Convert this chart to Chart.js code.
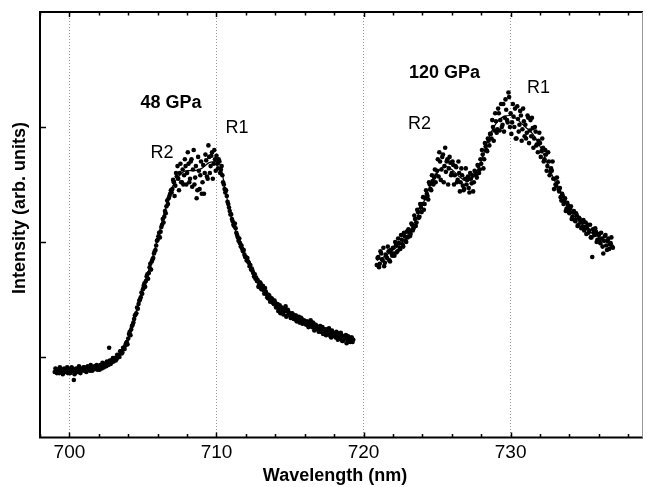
<!DOCTYPE html>
<html lang="en">
<head>
  <meta charset="UTF-8">
  <title>Ruby fluorescence spectra</title>
  <script src="https://cdn.jsdelivr.net/npm/chart.js"></script>
  <style>
    body {
      margin: 0;
      padding: 0;
      background-color: #ffffff;
    }
    .container {
      width: 647px;
      height: 487px;
    }
  </style>
</head>
<body>
  <div class="container">
    <canvas id="spectrumChart" width="647" height="487"></canvas>
  </div>
  <script>
    // 48 GPa spectrum: wavelength (nm) and measured intensity
    const wl48 = [
      699.0, 699.1, 699.2, 699.3, 699.4, 699.5, 699.6, 699.7, 699.8, 699.9,
      700.0, 700.1, 700.2, 700.3, 700.4, 700.5, 700.6, 700.7, 700.8, 700.9,
      701.0, 701.1, 701.2, 701.3, 701.4, 701.5, 701.6, 701.7, 701.8, 701.9,
      702.0, 702.1, 702.2, 702.3, 702.4, 702.5, 702.6, 702.7, 702.8, 702.9,
      703.0, 703.1, 703.2, 703.3, 703.4, 703.5, 703.6, 703.7, 703.8, 703.9,
      704.0, 704.1, 704.2, 704.3, 704.4, 704.5, 704.6, 704.7, 704.8, 704.9,
      705.0, 705.1, 705.2, 705.3, 705.4, 705.5, 705.6, 705.7, 705.8, 705.9,
      706.0, 706.1, 706.2, 706.3, 706.4, 706.5, 706.6, 706.7, 706.8, 706.9,
      707.0, 707.1, 707.2, 707.3, 707.4, 707.5, 707.6, 707.7, 707.8, 707.9,
      708.0, 708.1, 708.2, 708.3, 708.4, 708.5, 708.6, 708.7, 708.8, 708.9,
      709.0, 709.1, 709.2, 709.3, 709.4, 709.5, 709.6, 709.7, 709.8, 709.9,
      710.0, 710.1, 710.2, 710.3, 710.4, 710.5, 710.6, 710.7, 710.8, 710.9,
      711.0, 711.1, 711.2, 711.3, 711.4, 711.5, 711.6, 711.7, 711.8, 711.9,
      712.0, 712.1, 712.2, 712.3, 712.4, 712.5, 712.6, 712.7, 712.8, 712.9,
      713.0, 713.1, 713.2, 713.3, 713.4, 713.5, 713.6, 713.7, 713.8, 713.9,
      714.0, 714.1, 714.2, 714.3, 714.4, 714.5, 714.6, 714.7, 714.8, 714.9,
      715.0, 715.1, 715.2, 715.3, 715.4, 715.5, 715.6, 715.7, 715.8, 715.9,
      716.0, 716.1, 716.2, 716.3, 716.4, 716.5, 716.6, 716.7, 716.8, 716.9,
      717.0, 717.1, 717.2, 717.3, 717.4, 717.5, 717.6, 717.7, 717.8, 717.9,
      718.0, 718.1, 718.2, 718.3, 718.4, 718.5, 718.6, 718.7, 718.8, 718.9,
      719.0, 719.1, 719.2, 719.3
    ];
    const int48 = [
      0.87, 0.89, 0.88, 0.86, 0.90, 0.88, 0.87, 0.89, 0.88, 0.86,
      0.89, 0.87, 0.90, 0.80, 0.88, 0.89, 0.87, 0.90, 0.88, 0.89,
      0.88, 0.90, 0.89, 0.91, 0.88, 0.90, 0.89, 0.92, 0.90, 0.89,
      0.91, 0.93, 0.90, 0.92, 0.94, 0.92, 0.95, 1.08, 0.94, 0.97,
      0.96, 0.99, 0.98, 1.01, 1.00, 1.05, 1.04, 1.08, 1.10, 1.13,
      1.16, 1.22, 1.24, 1.28, 1.33, 1.37, 1.43, 1.46, 1.50, 1.56,
      1.59, 1.64, 1.66, 1.72, 1.73, 1.81, 1.83, 1.86, 1.92, 1.97,
      2.02, 2.08, 2.09, 2.15, 2.17, 2.27, 2.31, 2.33, 2.40, 2.45,
      2.46, 2.52, 2.49, 2.57, 2.55, 2.60, 2.52, 2.63, 2.58, 2.66,
      2.60, 2.68, 2.55, 2.72, 2.63, 2.50, 2.66, 2.45, 2.62, 2.58,
      2.42, 2.67, 2.60, 2.71, 2.55, 2.74, 2.66, 2.78, 2.68, 2.72,
      2.75, 2.64, 2.70, 2.63, 2.58, 2.50, 2.43, 2.40, 2.33, 2.27,
      2.24, 2.18, 2.14, 2.12, 2.06, 2.01, 1.99, 1.97, 1.92, 1.89,
      1.87, 1.86, 1.82, 1.80, 1.77, 1.73, 1.72, 1.69, 1.67, 1.63,
      1.64, 1.60, 1.58, 1.60, 1.55, 1.51, 1.53, 1.49, 1.50, 1.46,
      1.47, 1.44, 1.40, 1.45, 1.42, 1.39, 1.41, 1.44, 1.36, 1.39,
      1.38, 1.35, 1.37, 1.34, 1.36, 1.32, 1.35, 1.30, 1.33, 1.31,
      1.31, 1.28, 1.30, 1.27, 1.32, 1.26, 1.29, 1.25, 1.27, 1.24,
      1.25, 1.22, 1.26, 1.21, 1.23, 1.24, 1.20, 1.22, 1.17, 1.21,
      1.20, 1.17, 1.21, 1.18, 1.16, 1.19, 1.14, 1.17, 1.19, 1.15,
      1.16, 1.13, 1.17, 1.15
    ];
    // second pass of the 48 GPa scan, half a step further on
    const wl48b = [
      699.05, 699.15, 699.25, 699.35, 699.45, 699.55, 699.65, 699.75, 699.85, 699.95,
      700.05, 700.15, 700.25, 700.35, 700.45, 700.55, 700.65, 700.75, 700.85, 700.95,
      701.05, 701.15, 701.25, 701.35, 701.45, 701.55, 701.65, 701.75, 701.85, 701.95,
      702.05, 702.15, 702.25, 702.35, 702.45, 702.55, 702.65, 702.75, 702.85, 702.95,
      703.05, 703.15, 703.25, 703.35, 703.45, 703.55, 703.65, 703.75, 703.85, 703.95,
      704.05, 704.15, 704.25, 704.35, 704.45, 704.55, 704.65, 704.75, 704.85, 704.95,
      705.05, 705.15, 705.25, 705.35, 705.45, 705.55, 705.65, 705.75, 705.85, 705.95,
      706.05, 706.15, 706.25, 706.35, 706.45, 706.55, 706.65, 706.75, 706.85, 706.95,
      707.05, 707.15, 707.25, 707.35, 707.45, 707.55, 707.65, 707.75, 707.85, 707.95,
      708.05, 708.15, 708.25, 708.35, 708.45, 708.55, 708.65, 708.75, 708.85, 708.95,
      709.05, 709.15, 709.25, 709.35, 709.45, 709.55, 709.65, 709.75, 709.85, 709.95,
      710.05, 710.15, 710.25, 710.35, 710.45, 710.55, 710.65, 710.75, 710.85, 710.95,
      711.05, 711.15, 711.25, 711.35, 711.45, 711.55, 711.65, 711.75, 711.85, 711.95,
      712.05, 712.15, 712.25, 712.35, 712.45, 712.55, 712.65, 712.75, 712.85, 712.95,
      713.05, 713.15, 713.25, 713.35, 713.45, 713.55, 713.65, 713.75, 713.85, 713.95,
      714.05, 714.15, 714.25, 714.35, 714.45, 714.55, 714.65, 714.75, 714.85, 714.95,
      715.05, 715.15, 715.25, 715.35, 715.45, 715.55, 715.65, 715.75, 715.85, 715.95,
      716.05, 716.15, 716.25, 716.35, 716.45, 716.55, 716.65, 716.75, 716.85, 716.95,
      717.05, 717.15, 717.25, 717.35, 717.45, 717.55, 717.65, 717.75, 717.85, 717.95,
      718.05, 718.15, 718.25, 718.35, 718.45, 718.55, 718.65, 718.75, 718.85, 718.95,
      719.05, 719.15, 719.25
    ];
    const int48b = [
      0.90, 0.86, 0.89, 0.91, 0.87, 0.85, 0.90, 0.87, 0.91, 0.88,
      0.86, 0.91, 0.88, 0.85, 0.90, 0.87, 0.92, 0.86, 0.89, 0.91,
      0.91, 0.87, 0.92, 0.89, 0.93, 0.88, 0.91, 0.90, 0.93, 0.91,
      0.89, 0.92, 0.95, 0.91, 0.93, 0.96, 0.93, 0.97, 0.95, 0.99,
      0.99, 0.97, 1.02, 1.00, 1.05, 1.03, 1.08, 1.07, 1.12, 1.11,
      1.20, 1.19, 1.27, 1.30, 1.36, 1.38, 1.42, 1.49, 1.52, 1.55,
      1.62, 1.61, 1.70, 1.68, 1.78, 1.76, 1.85, 1.90, 1.93, 2.01,
      2.05, 2.04, 2.13, 2.20, 2.22, 2.25, 2.36, 2.38, 2.42, 2.43,
      2.54, 2.40, 2.60, 2.66, 2.45, 2.68, 2.52, 2.50, 2.72, 2.50,
      2.78, 2.52, 2.70, 2.48, 2.80, 2.56, 2.38, 2.74, 2.46, 2.70,
      2.52, 2.42, 2.76, 2.57, 2.84, 2.60, 2.75, 2.55, 2.80, 2.62,
      2.68, 2.72, 2.60, 2.66, 2.52, 2.46, 2.45, 2.35, 2.30, 2.24,
      2.20, 2.15, 2.16, 2.08, 2.04, 2.03, 1.96, 1.94, 1.93, 1.87,
      1.84, 1.83, 1.79, 1.76, 1.75, 1.70, 1.68, 1.66, 1.61, 1.65,
      1.59, 1.62, 1.55, 1.57, 1.52, 1.54, 1.48, 1.51, 1.47, 1.49,
      1.43, 1.46, 1.42, 1.38, 1.43, 1.37, 1.40, 1.35, 1.41, 1.37,
      1.34, 1.38, 1.33, 1.36, 1.31, 1.34, 1.30, 1.34, 1.29, 1.32,
      1.29, 1.31, 1.26, 1.29, 1.27, 1.30, 1.23, 1.28, 1.26, 1.22,
      1.27, 1.23, 1.20, 1.24, 1.19, 1.22, 1.25, 1.18, 1.23, 1.19,
      1.18, 1.22, 1.15, 1.19, 1.21, 1.14, 1.18, 1.16, 1.12, 1.18,
      1.14, 1.17, 1.13
    ];

    // 120 GPa spectrum
    const wl120 = [
      720.9,
      721.0, 721.1, 721.2, 721.3, 721.4, 721.5, 721.6, 721.7, 721.8, 721.9,
      722.0, 722.1, 722.2, 722.3, 722.4, 722.5, 722.6, 722.7, 722.8, 722.9,
      723.0, 723.1, 723.2, 723.3, 723.4, 723.5, 723.6, 723.7, 723.8, 723.9,
      724.0, 724.1, 724.2, 724.3, 724.4, 724.5, 724.6, 724.7, 724.8, 724.9,
      725.0, 725.1, 725.2, 725.3, 725.4, 725.5, 725.6, 725.7, 725.8, 725.9,
      726.0, 726.1, 726.2, 726.3, 726.4, 726.5, 726.6, 726.7, 726.8, 726.9,
      727.0, 727.1, 727.2, 727.3, 727.4, 727.5, 727.6, 727.7, 727.8, 727.9,
      728.0, 728.1, 728.2, 728.3, 728.4, 728.5, 728.6, 728.7, 728.8, 728.9,
      729.0, 729.1, 729.2, 729.3, 729.4, 729.5, 729.6, 729.7, 729.8, 729.9,
      730.0, 730.1, 730.2, 730.3, 730.4, 730.5, 730.6, 730.7, 730.8, 730.9,
      731.0, 731.1, 731.2, 731.3, 731.4, 731.5, 731.6, 731.7, 731.8, 731.9,
      732.0, 732.1, 732.2, 732.3, 732.4, 732.5, 732.6, 732.7, 732.8, 732.9,
      733.0, 733.1, 733.2, 733.3, 733.4, 733.5, 733.6, 733.7, 733.8, 733.9,
      734.0, 734.1, 734.2, 734.3, 734.4, 734.5, 734.6, 734.7, 734.8, 734.9,
      735.0, 735.1, 735.2, 735.3, 735.4, 735.5, 735.6, 735.7, 735.8, 735.9,
      736.0, 736.1, 736.2, 736.3, 736.4, 736.5, 736.6, 736.7, 736.8, 736.9
    ];
    const int120 = [
      1.80,
      1.87, 1.81, 1.90, 1.84, 1.79, 1.89, 1.86, 1.92, 1.83, 1.90,
      1.95, 1.88, 1.97, 1.92, 1.99, 1.94, 2.02, 1.96, 2.05, 2.00,
      2.04, 2.10, 2.07, 2.15, 2.12, 2.20, 2.17, 2.26, 2.22, 2.30,
      2.33, 2.28, 2.38, 2.42, 2.37, 2.50, 2.45, 2.53, 2.56, 2.52,
      2.62, 2.57, 2.70, 2.63, 2.76, 2.66, 2.61, 2.72, 2.64, 2.69,
      2.60, 2.67, 2.58, 2.65, 2.54, 2.60, 2.52, 2.58, 2.45, 2.55,
      2.50, 2.57, 2.43, 2.55, 2.58, 2.52, 2.61, 2.56, 2.66, 2.63,
      2.68, 2.76, 2.72, 2.83, 2.79, 2.88, 2.94, 2.90, 3.00, 2.97,
      3.05, 2.98, 3.12, 3.06, 3.00, 3.20, 3.08, 3.15, 3.04, 3.26,
      3.12, 3.04, 3.09, 3.16, 2.90, 3.07, 3.02, 3.10, 2.98, 3.05,
      3.02, 2.95, 3.08, 2.97, 2.92, 2.99, 2.90, 2.96, 2.85, 2.88,
      2.86, 2.79, 2.82, 2.72, 2.76, 2.66, 2.70, 2.61, 2.62, 2.55,
      2.55, 2.49, 2.52, 2.44, 2.39, 2.42, 2.33, 2.38, 2.29, 2.32,
      2.25, 2.31, 2.22, 2.27, 2.18, 2.23, 2.15, 2.20, 2.12, 2.17,
      2.10, 2.17, 2.12, 2.08, 2.15, 2.04, 2.11, 2.06, 2.09, 2.02,
      2.06, 1.99, 2.03, 1.90, 2.05, 1.97, 2.01, 1.94, 1.99, 1.96
    ];
    const wl120b = [
      720.95,
      721.05, 721.15, 721.25, 721.35, 721.45, 721.55, 721.65, 721.75, 721.85, 721.95,
      722.05, 722.15, 722.25, 722.35, 722.45, 722.55, 722.65, 722.75, 722.85, 722.95,
      723.05, 723.15, 723.25, 723.35, 723.45, 723.55, 723.65, 723.75, 723.85, 723.95,
      724.05, 724.15, 724.25, 724.35, 724.45, 724.55, 724.65, 724.75, 724.85, 724.95,
      725.05, 725.15, 725.25, 725.35, 725.45, 725.55, 725.65, 725.75, 725.85, 725.95,
      726.05, 726.15, 726.25, 726.35, 726.45, 726.55, 726.65, 726.75, 726.85, 726.95,
      727.05, 727.15, 727.25, 727.35, 727.45, 727.55, 727.65, 727.75, 727.85, 727.95,
      728.05, 728.15, 728.25, 728.35, 728.45, 728.55, 728.65, 728.75, 728.85, 728.95,
      729.05, 729.15, 729.25, 729.35, 729.45, 729.55, 729.65, 729.75, 729.85, 729.95,
      730.05, 730.15, 730.25, 730.35, 730.45, 730.55, 730.65, 730.75, 730.85, 730.95,
      731.05, 731.15, 731.25, 731.35, 731.45, 731.55, 731.65, 731.75, 731.85, 731.95,
      732.05, 732.15, 732.25, 732.35, 732.45, 732.55, 732.65, 732.75, 732.85, 732.95,
      733.05, 733.15, 733.25, 733.35, 733.45, 733.55, 733.65, 733.75, 733.85, 733.95,
      734.05, 734.15, 734.25, 734.35, 734.45, 734.55, 734.65, 734.75, 734.85, 734.95,
      735.05, 735.15, 735.25, 735.35, 735.45, 735.55, 735.65, 735.75, 735.85, 735.95,
      736.05, 736.15, 736.25, 736.35, 736.45, 736.55, 736.65, 736.75, 736.85, 736.95
    ];
    const int120b = [
      1.86,
      1.78, 1.92, 1.85, 1.95, 1.82, 1.87, 1.96, 1.84, 1.93, 1.88,
      1.90, 2.00, 1.91, 2.03, 1.95, 2.06, 1.98, 2.08, 2.01, 2.09,
      2.11, 2.05, 2.16, 2.10, 2.23, 2.14, 2.28, 2.21, 2.33, 2.26,
      2.39, 2.33, 2.45, 2.40, 2.52, 2.46, 2.58, 2.50, 2.63, 2.58,
      2.72, 2.78, 2.54, 2.74, 2.52, 2.82, 2.70, 2.50, 2.74, 2.58,
      2.70, 2.50, 2.66, 2.52, 2.70, 2.44, 2.64, 2.49, 2.46, 2.64,
      2.54, 2.47, 2.60, 2.51, 2.44, 2.62, 2.58, 2.67, 2.60, 2.72,
      2.80, 2.64, 2.86, 2.80, 2.90, 2.84, 2.94, 3.06, 2.88, 3.12,
      2.95, 3.16, 2.97, 3.20, 3.02, 2.96, 3.24, 3.06, 3.30, 3.00,
      2.94, 3.20, 3.00, 2.90, 3.18, 2.96, 3.14, 2.88, 3.16, 2.92,
      2.90, 3.10, 2.86, 3.06, 3.08, 2.82, 3.00, 2.84, 2.78, 2.95,
      2.74, 2.90, 2.70, 2.80, 2.62, 2.78, 2.58, 2.64, 2.70, 2.46,
      2.50, 2.56, 2.46, 2.47, 2.36, 2.40, 2.36, 2.27, 2.34, 2.26,
      2.29, 2.20, 2.26, 2.19, 2.25, 2.14, 2.21, 2.17, 2.13, 2.19,
      2.13, 2.07, 2.15, 2.10, 2.04, 1.87, 2.08, 2.12, 2.00, 2.07,
      2.02, 2.08, 1.96, 2.01, 2.06, 1.93, 2.03, 1.98, 2.04, 1.95
    ];

    // fitted curves
    const fit48X = [699.0, 700.0, 701.0, 702.0, 702.5, 703.0, 703.5, 704.0, 704.5, 705.0, 705.5, 706.0, 706.5, 707.0, 707.5, 708.0, 708.5, 709.0, 709.5, 710.0, 710.3, 710.6, 711.0, 711.5, 712.0, 712.5, 713.0, 713.5, 714.0, 714.5, 715.0, 716.0, 717.0, 718.0, 719.0, 719.3];
    const fit48Y = [0.88, 0.885, 0.89, 0.91, 0.93, 0.97, 1.04, 1.17, 1.38, 1.60, 1.80, 2.03, 2.28, 2.48, 2.58, 2.62, 2.62, 2.64, 2.69, 2.70, 2.65, 2.45, 2.22, 2.03, 1.88, 1.74, 1.62, 1.53, 1.46, 1.41, 1.37, 1.30, 1.24, 1.19, 1.16, 1.15];
    const fit120X = [720.9, 721.5, 722.0, 722.5, 723.0, 723.5, 724.0, 724.5, 725.0, 725.5, 726.0, 726.5, 727.0, 727.5, 728.0, 728.5, 729.0, 729.5, 730.0, 730.5, 731.0, 731.5, 732.0, 732.5, 733.0, 733.5, 734.0, 734.5, 735.0, 735.5, 736.0, 736.5, 736.9];
    const fit120Y = [1.84, 1.88, 1.93, 1.98, 2.06, 2.18, 2.32, 2.48, 2.60, 2.66, 2.63, 2.57, 2.53, 2.57, 2.70, 2.90, 3.03, 3.09, 3.10, 3.06, 3.00, 2.94, 2.83, 2.68, 2.53, 2.40, 2.28, 2.20, 2.14, 2.08, 2.04, 2.00, 1.97];

    // axis ticks
    const xTickValues = [698, 700, 702, 704, 706, 708, 710, 712, 714, 716, 718, 720, 722, 724, 726, 728, 730, 732, 734, 736, 738];
    const yTickValues = [1, 2, 3];

    // text labels: [text, wavelength, intensity, bold]
    const peakLabels = [
      ['48 GPa', 706.9, 3.21, true],
      ['R2', 706.3, 2.77, false],
      ['R1', 711.4, 2.99, false],
      ['120 GPa', 725.5, 3.47, true],
      ['R2', 723.8, 3.03, false],
      ['R1', 731.9, 3.34, false]
    ];

    const FONT = '"Liberation Sans", Arial, Helvetica, sans-serif';

    function toPoints(xs, ys) {
      return xs.map((x, i) => ({ x: x, y: ys[i] }));
    }

    // frame, inward ticks, axis titles and peak labels
    const decorations = {
      id: 'decorations',
      afterDraw(chart) {
        const { ctx, chartArea: a, scales } = chart;
        const xs = scales.x, ys = scales.y;
        ctx.save();
        ctx.strokeStyle = '#000';

        // inward ticks on bottom and top
        ctx.lineWidth = 1.5;
        xTickValues.forEach(v => {
          const px = Math.round(xs.getPixelForValue(v)) + 0.5;
          const len = v % 10 === 0 ? 5 : 3.5;
          ctx.beginPath();
          ctx.moveTo(px, a.bottom);
          ctx.lineTo(px, a.bottom - len);
          ctx.moveTo(px, a.top);
          ctx.lineTo(px, a.top + len);
          ctx.stroke();
        });
        yTickValues.forEach(v => {
          const py = Math.round(ys.getPixelForValue(v)) + 0.5;
          ctx.beginPath();
          ctx.moveTo(a.left, py);
          ctx.lineTo(a.left + 6, py);
          ctx.stroke();
        });

        // frame
        ctx.lineWidth = 2;
        ctx.beginPath();
        ctx.moveTo(a.right, a.top);
        ctx.lineTo(a.left, a.top);
        ctx.lineTo(a.left, a.bottom);
        ctx.lineTo(a.right, a.bottom);
        ctx.stroke();
        ctx.strokeStyle = '#999';
        ctx.lineWidth = 1;
        ctx.beginPath();
        ctx.moveTo(a.right - 0.5, a.top);
        ctx.lineTo(a.right - 0.5, a.bottom);
        ctx.stroke();

        // peak labels
        ctx.fillStyle = '#000';
        ctx.textAlign = 'center';
        ctx.textBaseline = 'middle';
        peakLabels.forEach(([text, x, y, bold]) => {
          ctx.font = (bold ? 'bold ' : '') + '18px ' + FONT;
          ctx.fillText(text, xs.getPixelForValue(x), ys.getPixelForValue(y));
        });

        // axis titles
        ctx.font = 'bold 18px ' + FONT;
        ctx.fillText('Wavelength (nm)', 335, 476);
        ctx.translate(20, 208);
        ctx.rotate(-Math.PI / 2);
        ctx.fillText('Intensity (arb. units)', 0, 0);
        ctx.restore();
      }
    };

    const ctx = document.getElementById('spectrumChart').getContext('2d');
    const chart = new Chart(ctx, {
      type: 'scatter',
      data: {
        datasets: [
          {
            label: 'fit 48 GPa',
            type: 'line',
            data: toPoints(fit48X, fit48Y),
            borderColor: '#000',
            borderWidth: 1.2,
            pointRadius: 0,
            cubicInterpolationMode: 'monotone',
            fill: false
          },
          {
            label: 'fit 120 GPa',
            type: 'line',
            data: toPoints(fit120X, fit120Y),
            borderColor: '#000',
            borderWidth: 1.2,
            pointRadius: 0,
            cubicInterpolationMode: 'monotone',
            fill: false
          },
          {
            label: '48 GPa',
            data: toPoints(wl48, int48).concat(toPoints(wl48b, int48b)),
            backgroundColor: '#000',
            borderWidth: 0,
            pointRadius: 2.3
          },
          {
            label: '120 GPa',
            data: toPoints(wl120, int120).concat(toPoints(wl120b, int120b)),
            backgroundColor: '#000',
            borderWidth: 0,
            pointRadius: 2.3
          }
        ]
      },
      options: {
        responsive: false,
        animation: false,
        layout: { padding: { top: 12, right: 1, left: 0, bottom: 0 } },
        plugins: {
          legend: { display: false },
          tooltip: { enabled: false }
        },
        scales: {
          x: {
            type: 'linear',
            min: 698,
            max: 739,
            afterBuildTicks: s => { s.ticks = xTickValues.map(v => ({ value: v })); },
            afterFit: s => { s.height = 49.5; },
            border: { display: false, dash: [1, 2] },
            grid: {
              drawTicks: false,
              color: c => (c.tick && c.tick.value % 10 === 0 ? '#999' : 'transparent'),
              lineWidth: 1
            },
            ticks: {
              autoSkip: false,
              maxRotation: 0,
              padding: 4,
              color: '#000',
              font: { family: FONT, size: 19 },
              callback: v => (v % 10 === 0 ? String(v) : '')
            }
          },
          y: {
            type: 'linear',
            min: 0.3,
            max: 4.0,
            afterBuildTicks: s => { s.ticks = yTickValues.map(v => ({ value: v })); },
            afterFit: s => { s.width = 40; },
            border: { display: false },
            grid: { display: false, drawTicks: false },
            ticks: { display: false }
          }
        }
      },
      plugins: [decorations]
    });
  </script>
</body>
</html>
